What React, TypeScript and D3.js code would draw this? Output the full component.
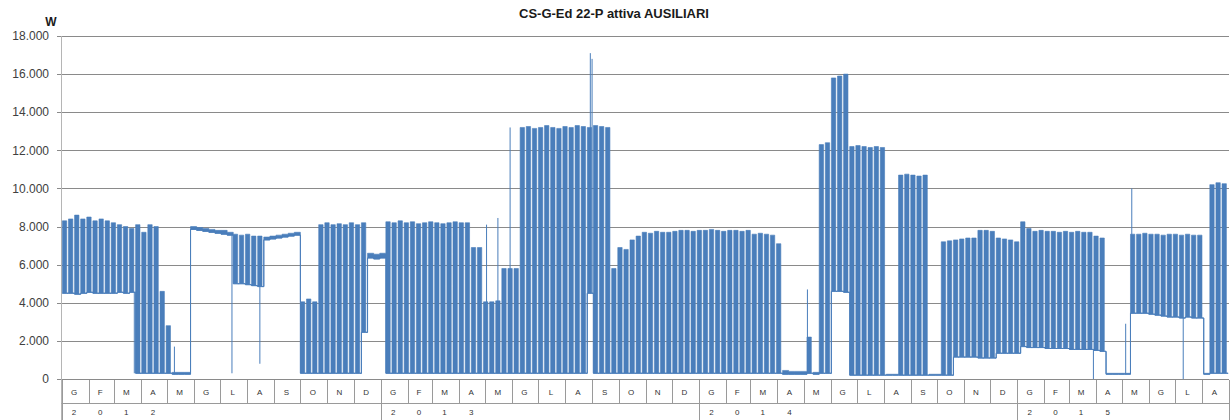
import React, { useEffect, useRef } from "react";
import * as d3 from "d3";

const chartTitle = "CS-G-Ed 22-P attiva AUSILIARI";
const unitLabel = "W";
const monthLetters = ["G", "F", "M", "A", "M", "G", "L", "A", "S", "O", "N", "D"];
const yTicks = [0, 2000, 4000, 6000, 8000, 10000, 12000, 14000, 16000, 18000];
const axisStart = "2012-01-01";
const axisEnd = "2015-09-01";
const firstMonday = "2012-01-02";

// weekday peak and base load (W), one value per week, weeks start on Monday 2 Jan 2012
const high2012 = [
  8300, 8400, 8600, 8400, 8500, 8300, 8400, 8300, 8200, 8100, 8000, 7900,
  8100, 7700, 8100, 8000, 4600, 2800, 350, 350, 350,
  8000, 7950, 7900, 7850, 7800, 7800, 7700,
  7600, 7550, 7600, 7500, 7500,
  7450, 7500, 7550, 7600, 7650, 7700,
  4050, 4200, 4050,
  8100, 8200, 8100, 8150, 8100, 8200, 8100, 8200,
  6600, 6550, 6600,
];
const low2012 = [
  4500, 4500, 4450, 4500, 4550, 4500, 4500, 4500, 4500, 4550, 4500, 4550,
  300, 300, 300, 300, 300, 300, 250, 250, 250,
  7850, 7800, 7750, 7700, 7650, 7600, 7550,
  5000, 5000, 4950, 4900, 4850,
  7300, 7350, 7400, 7450, 7500, 7550,
  300, 300, 300,
  300, 300, 300, 300, 300, 300, 300, 2450,
  6350, 6300, 6350,
];
const high2013 = [
  8250, 8200, 8300, 8200, 8250, 8150, 8200, 8250, 8200, 8150, 8200, 8250, 8200, 8200,
  6900, 6900, 4050, 4050, 4100, 5800, 5800, 5800,
  13200, 13250, 13150, 13200, 13300, 13200, 13150, 13250, 13200, 13300, 13250, 13200, 13300, 13250, 13200,
  5800, 6900, 6800, 7300, 7500,
  7700, 7650, 7750, 7700, 7700, 7750, 7800, 7800, 7750, 7800,
];
const low2013 = [
  300, 300, 300, 300, 300, 300, 300, 300, 300, 300, 300, 300, 300, 300,
  300, 300, 300, 300, 300, 300, 300, 300,
  300, 300, 300, 300, 300, 300, 300, 300, 300, 300, 300, 4500, 300, 300, 300,
  300, 300, 300, 300, 300,
  300, 300, 300, 300, 300, 300, 300, 300, 300, 300,
];
const high2014 = [
  7800, 7850, 7800, 7750, 7800, 7800, 7750, 7800, 7600, 7650, 7600, 7550, 7100,
  450, 400, 400, 400, 2200, 350,
  12300, 12400, 15800, 15900, 16000,
  12200, 12250, 12200, 12150, 12200, 12150, 250, 250,
  10700, 10750, 10700, 10650, 10700, 250, 250,
  7200, 7250, 7300, 7350, 7400, 7400, 7800, 7800, 7750, 7400, 7350, 7300, 7200,
];
const low2014 = [
  300, 300, 300, 300, 300, 300, 300, 300, 300, 300, 300, 300, 300,
  250, 250, 250, 250, 300, 250,
  300, 300, 4600, 4600, 4550,
  200, 200, 200, 200, 200, 200, 200, 200,
  200, 200, 200, 200, 200, 200, 200,
  200, 200, 1150, 1150, 1150, 1150, 1100, 1100, 1100, 1350, 1350, 1350, 1350,
];
const high2015 = [
  8250, 7900, 7750, 7800, 7750, 7750, 7700, 7750, 7700, 7750, 7700, 7700, 7500, 7400,
  300, 300, 300, 300,
  7600, 7600, 7650, 7600, 7600, 7550, 7600, 7600, 7550, 7600, 7550, 7550,
  300, 10200, 10300, 10250,
];
const low2015 = [
  1700, 1650, 1650, 1650, 1600, 1600, 1600, 1600, 1550, 1550, 1550, 1550, 1500, 1450,
  250, 250, 250, 250,
  3450, 3450, 3450, 3400, 3350, 3300, 3250, 3250, 3200, 3250, 3200, 3200,
  250, 300, 300, 300,
];

// weeks with no weekend drop (plant running all week or switched off)
const continuousWeeks = [
  18, 19, 20, 21, 22, 23, 24, 25, 26, 27, 33, 34, 35, 36, 37, 38, 50, 51, 52,
  118, 119, 120, 121, 123, 135, 136, 142, 143, 171, 172, 173, 174, 187,
];

// single readings that jump away from the weekly pattern
const spikes: [string, number][] = [
  ["2012-03-24", 300],
  ["2012-05-09", 1700],
  ["2012-07-14", 300],
  ["2012-08-15", 800],
  ["2013-05-02", 8100],
  ["2013-05-15", 8450],
  ["2013-05-29", 13200],
  ["2013-08-29", 17100],
  ["2013-08-31", 16800],
  ["2014-05-05", 4700],
  ["2015-03-29", 0],
  ["2015-05-05", 2900],
  ["2015-05-12", 10000],
  ["2015-07-10", 0],
];

const width = 1232;
const height = 420;
const blue = "#4a7ebb";
const font = "'Liberation Sans', Arial, sans-serif";

interface Step {
  t: Date;
  y0: number;
  y1: number;
}

const App: React.FC = () => {
  const svgRef = useRef<SVGSVGElement>(null);

  useEffect(() => {
    if (!svgRef.current) return;
    const svg = d3.select(svgRef.current);
    svg.selectAll("*").remove();
    svg.attr("width", width).attr("height", height);

    const parse = d3.timeParse("%Y-%m-%d");
    const t0 = parse(axisStart)!;
    const t1 = parse(axisEnd)!;
    const origin = parse(firstMonday)!;

    const x = d3.scaleTime().domain([t0, t1]).range([61.5, 1229]);
    const y = d3.scaleLinear().domain([0, 18000]).range([379, 36]);
    const fmt = d3
      .formatLocale({ decimal: ",", thousands: ".", grouping: [3], currency: ["€", ""] })
      .format(",.0f");

    const weekHigh = [...high2012, ...high2013, ...high2014, ...high2015];
    const weekLow = [...low2012, ...low2013, ...low2014, ...low2015];

    // background
    svg.append("rect").attr("width", width).attr("height", height).attr("fill", "#fff");

    // title + unit
    svg
      .append("text")
      .attr("x", 614)
      .attr("y", 18)
      .attr("text-anchor", "middle")
      .style("font-family", font)
      .style("font-size", "13px")
      .style("font-weight", "bold")
      .style("fill", "#1a1a1a")
      .text(chartTitle);

    svg
      .append("text")
      .attr("x", 51)
      .attr("y", 26)
      .attr("text-anchor", "middle")
      .style("font-family", font)
      .style("font-size", "12px")
      .style("font-weight", "bold")
      .style("fill", "#1a1a1a")
      .text(unitLabel);

    // horizontal gridlines
    svg
      .append("g")
      .selectAll("line")
      .data(yTicks)
      .join("line")
      .attr("x1", 57)
      .attr("x2", 1229)
      .attr("y1", (d) => Math.round(y(d)) + 0.5)
      .attr("y2", (d) => Math.round(y(d)) + 0.5)
      .attr("stroke", "#8a8a8a")
      .attr("stroke-width", 1.2);

    svg
      .append("g")
      .selectAll("text")
      .data(yTicks)
      .join("text")
      .attr("x", 49)
      .attr("y", (d) => y(d))
      .attr("dy", "0.35em")
      .attr("text-anchor", "end")
      .style("font-family", font)
      .style("font-size", "12px")
      .style("fill", "#404040")
      .text((d) => fmt(d));

    // value axis line
    svg
      .append("line")
      .attr("x1", 61.5)
      .attr("x2", 61.5)
      .attr("y1", y(18000))
      .attr("y2", height)
      .attr("stroke", "#b5b5b5");

    // category axis: month cells and year row
    const months = d3.timeMonth.range(t0, t1);
    const bounds = [...months, t1];
    svg
      .append("g")
      .selectAll("line")
      .data(bounds)
      .join("line")
      .attr("x1", (d) => Math.round(x(d)) + 0.5)
      .attr("x2", (d) => Math.round(x(d)) + 0.5)
      .attr("y1", 380)
      .attr("y2", (d) => (d.getMonth() === 0 || +d === +t1 ? height : 403))
      .attr("stroke", "#9a9a9a");

    svg
      .append("line")
      .attr("x1", 61.5)
      .attr("x2", 1229)
      .attr("y1", 403.5)
      .attr("y2", 403.5)
      .attr("stroke", "#9a9a9a");

    const monthMid = (m: Date) => (x(m) + x(d3.timeMonth.offset(m, 1))) / 2 - 1;

    svg
      .append("g")
      .selectAll("text")
      .data(months)
      .join("text")
      .attr("x", monthMid)
      .attr("y", 395)
      .attr("text-anchor", "middle")
      .style("font-family", font)
      .style("font-size", "8px")
      .style("fill", "#333")
      .text((d) => monthLetters[d.getMonth()]);

    const years = d3.timeYear.range(t0, t1);
    const yearDigits = years.flatMap((yr) =>
      String(yr.getFullYear())
        .split("")
        .map((c, i) => ({ c, m: d3.timeMonth.offset(yr, i) }))
    );
    svg
      .append("g")
      .selectAll("text")
      .data(yearDigits)
      .join("text")
      .attr("x", (d) => monthMid(d.m))
      .attr("y", 415)
      .attr("text-anchor", "middle")
      .style("font-family", font)
      .style("font-size", "8px")
      .style("fill", "#333")
      .text((d) => d.c);

    // series: weekday band between base and peak, weekends at base
    const steps: Step[] = [];
    weekHigh.forEach((hi, i) => {
      const start = d3.timeDay.offset(origin, i * 7);
      const lo = weekLow[i];
      steps.push({ t: start, y0: lo, y1: hi });
      if (!continuousWeeks.includes(i)) {
        steps.push({ t: d3.timeDay.offset(start, 5), y0: lo, y1: lo });
      }
    });
    const lastLow = weekLow[weekLow.length - 1];
    steps.push({ t: d3.timeDay.offset(origin, weekHigh.length * 7), y0: lastLow, y1: lastLow });

    const area = d3
      .area<Step>()
      .x((d) => x(d.t))
      .y0((d) => y(d.y0))
      .y1((d) => y(d.y1))
      .curve(d3.curveStepAfter);

    const baseLine = d3
      .line<Step>()
      .x((d) => x(d.t))
      .y((d) => y(d.y0))
      .curve(d3.curveStepAfter);

    const series = svg.append("g");

    series
      .append("path")
      .attr("d", area(steps) || "")
      .attr("fill", blue)
      .attr("stroke", blue)
      .attr("stroke-width", 0.6);

    series
      .append("path")
      .attr("d", baseLine(steps) || "")
      .attr("fill", "none")
      .attr("stroke", blue)
      .attr("stroke-width", 1);

    series
      .selectAll("line.spike")
      .data(spikes)
      .join("line")
      .attr("class", "spike")
      .attr("x1", (d) => x(d3.timeHour.offset(parse(d[0])!, 12)))
      .attr("x2", (d) => x(d3.timeHour.offset(parse(d[0])!, 12)))
      .attr("y1", (d) => {
        const wk = Math.floor(d3.timeDay.count(origin, parse(d[0])!) / 7);
        return y(weekLow[wk]);
      })
      .attr("y2", (d) => y(d[1]))
      .attr("stroke", blue)
      .attr("stroke-width", 1);
  }, []);

  return (
    <div style={{ position: "absolute", left: 0, top: 0 }}>
      <svg ref={svgRef} style={{ display: "block" }}></svg>
    </div>
  );
};

export default App;
